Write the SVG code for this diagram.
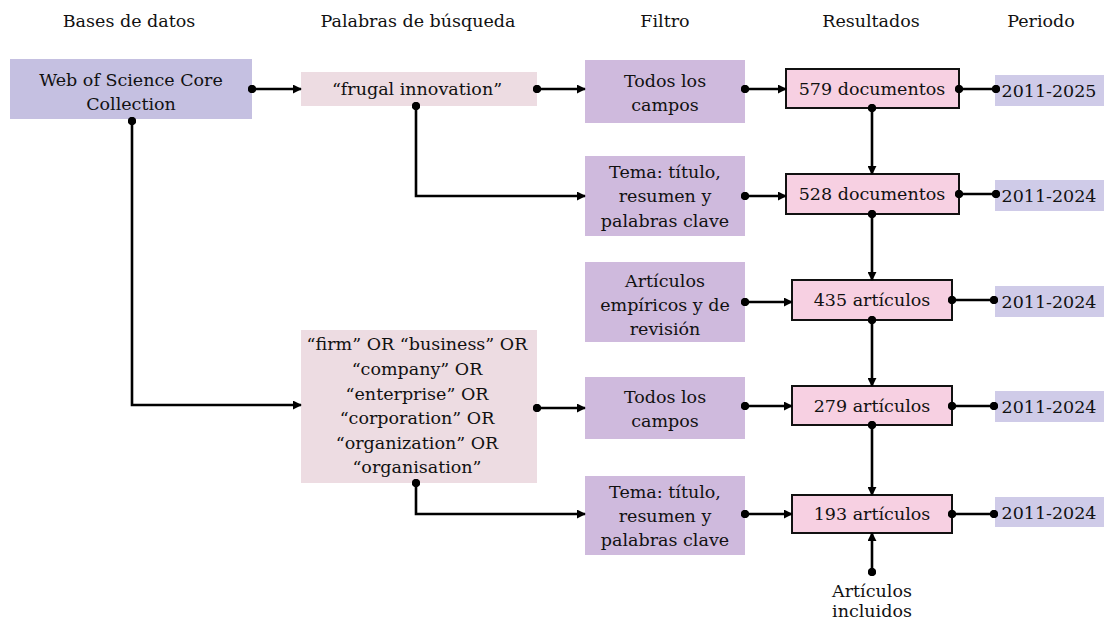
<svg xmlns="http://www.w3.org/2000/svg" width="1104" height="622" viewBox="0 0 1104 622">
<style>
text{font-family:"DejaVu Serif","Liberation Serif",serif;font-size:17.5px;fill:#111;text-anchor:middle}
.db{fill:#c5c0e1}
.kw{fill:#eddce2}
.fl{fill:#cfbadd}
.rs{fill:#f7d0e2;stroke:#111;stroke-width:2}
.pd{fill:#cfcbe8}
.c{fill:none;stroke:#000;stroke-width:2.6}
.a{marker-start:url(#dot);marker-end:url(#arr)}
.d{marker-start:url(#dot);marker-end:url(#dot)}
</style>
<defs>
<marker id="arr" viewBox="0 0 10 10" refX="9" refY="5" markerWidth="9" markerHeight="9" markerUnits="userSpaceOnUse" orient="auto"><path d="M0,0 L10,5 L0,10 z" fill="#000"/></marker>
<marker id="dot" viewBox="0 0 10 10" refX="5" refY="5" markerWidth="8.5" markerHeight="8.5" markerUnits="userSpaceOnUse" orient="auto"><circle cx="5" cy="5" r="5" fill="#000"/></marker>
</defs>
<g id="headers">
<text x="129" y="27">Bases de datos</text>
<text x="418" y="27">Palabras de búsqueda</text>
<text x="665" y="27">Filtro</text>
<text x="871" y="27">Resultados</text>
<text x="1041" y="27">Periodo</text>
</g>
<g id="wos"><rect class="db" x="10" y="59" width="242" height="60"/><text x="131" y="86">Web of Science Core</text><text x="131" y="110">Collection</text></g>
<g id="frugal"><rect class="kw" x="301" y="72" width="236" height="34"/><text x="417" y="95">“frugal innovation”</text></g>
<g id="firm"><rect class="kw" x="301" y="330" width="236" height="153"/>
<text x="417" y="350">“firm” OR “business” OR</text>
<text x="417" y="375">“company” OR</text>
<text x="417" y="400">“enterprise” OR</text>
<text x="417" y="424">“corporation” OR</text>
<text x="417" y="449">“organization” OR</text>
<text x="417" y="473">“organisation”</text></g>
<g id="f1"><rect class="fl" x="585" y="60" width="160" height="63"/><text x="665" y="87">Todos los</text><text x="665" y="111">campos</text></g>
<g id="f2"><rect class="fl" x="585" y="156" width="160" height="80"/><text x="665" y="178">Tema: título,</text><text x="665" y="202">resumen y</text><text x="665" y="227">palabras clave</text></g>
<g id="f3"><rect class="fl" x="585" y="262" width="160" height="80"/><text x="665" y="287">Artículos</text><text x="665" y="311">empíricos y de</text><text x="665" y="335">revisión</text></g>
<g id="f4"><rect class="fl" x="585" y="377" width="160" height="62"/><text x="665" y="403">Todos los</text><text x="665" y="427">campos</text></g>
<g id="f5"><rect class="fl" x="585" y="476" width="160" height="79"/><text x="665" y="498">Tema: título,</text><text x="665" y="522">resumen y</text><text x="665" y="546">palabras clave</text></g>
<g id="r1"><rect class="rs" x="786" y="69" width="173" height="39"/><text x="872" y="95">579 documentos</text></g>
<g id="r2"><rect class="rs" x="786" y="174" width="173" height="40"/><text x="872" y="200">528 documentos</text></g>
<g id="r3"><rect class="rs" x="792" y="280" width="160" height="40"/><text x="872" y="306">435 artículos</text></g>
<g id="r4"><rect class="rs" x="792" y="386" width="160" height="39"/><text x="872" y="412">279 artículos</text></g>
<g id="r5"><rect class="rs" x="792" y="495" width="160" height="38"/><text x="872" y="520">193 artículos</text></g>
<g id="p1"><rect class="pd" x="995" y="75" width="109" height="31"/><text x="1049" y="97">2011-2025</text></g>
<g id="p2"><rect class="pd" x="995" y="180" width="109" height="31"/><text x="1049" y="202">2011-2024</text></g>
<g id="p3"><rect class="pd" x="995" y="286" width="109" height="31"/><text x="1049" y="308">2011-2024</text></g>
<g id="p4"><rect class="pd" x="995" y="391" width="109" height="31"/><text x="1049" y="413">2011-2024</text></g>
<g id="p5"><rect class="pd" x="995" y="497" width="109" height="30"/><text x="1049" y="519">2011-2024</text></g>
<g id="incl"><text x="872" y="597">Artículos</text><text x="872" y="617">incluidos</text></g>
<g id="connectors">
<path class="c a" d="M252,89 H301"/>
<path class="c a" d="M132,121 V405 H301"/>
<path class="c a" d="M537,89 H585"/>
<path class="c a" d="M416,106 V196 H585"/>
<path class="c a" d="M745,89 H786"/>
<path class="c d" d="M959,89 H996"/>
<path class="c a" d="M872,108 V174"/>
<path class="c a" d="M745,196 H786"/>
<path class="c d" d="M959,194 H996"/>
<path class="c a" d="M872,214 V280"/>
<path class="c a" d="M745,302 H792"/>
<path class="c d" d="M952,300 H994"/>
<path class="c a" d="M872,320 V386"/>
<path class="c a" d="M537,408 H585"/>
<path class="c a" d="M745,406 H792"/>
<path class="c d" d="M952,406 H994"/>
<path class="c a" d="M872,425 V495"/>
<path class="c a" d="M416,483 V514 H585"/>
<path class="c a" d="M745,514 H792"/>
<path class="c d" d="M952,514 H994"/>
<path class="c a" d="M872,572 V533"/>
</g>
</svg>
